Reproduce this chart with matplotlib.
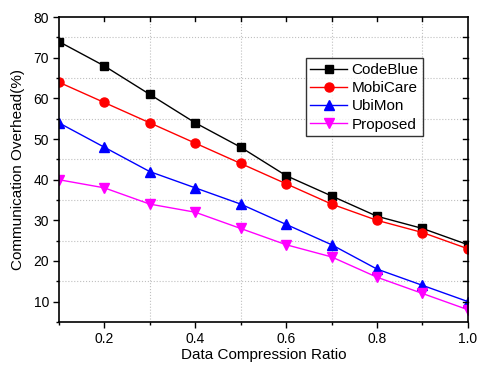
import numpy as np
import matplotlib
matplotlib.use('Agg')
import matplotlib.pyplot as plt
from matplotlib.ticker import MultipleLocator

plt.rcParams['font.family'] = ['Liberation Sans', 'DejaVu Sans']

ratio = [0.1, 0.2, 0.3, 0.4, 0.5, 0.6, 0.7, 0.8, 0.9, 1.0]
codeblue = [74, 68, 61, 54, 48, 41, 36, 31, 28, 24]
mobicare = [64, 59, 54, 49, 44, 39, 34, 30, 27, 23]
ubimon = [54, 48, 42, 38, 34, 29, 24, 18, 14, 10]
proposed = [40, 38, 34, 32, 28, 24, 21, 16, 12, 8]

fig = plt.figure(figsize=(4.78, 3.65), dpi=100)
ax = fig.add_axes([0.123, 0.118, 0.856, 0.835])

ax.plot(ratio, codeblue, color='black', marker='s', ms=6, lw=1, label='CodeBlue')
ax.plot(ratio, mobicare, color='red', marker='o', ms=6.5, lw=1, label='MobiCare')
ax.plot(ratio, ubimon, color='blue', marker='^', ms=7, lw=1, label='UbiMon')
ax.plot(ratio, proposed, color='magenta', marker='v', ms=7, lw=1, label='Proposed')

ax.set_xlim(0.1, 1.0)
ax.set_ylim(5, 80)
ax.xaxis.set_major_locator(MultipleLocator(0.2))
ax.xaxis.set_minor_locator(MultipleLocator(0.1))
ax.yaxis.set_major_locator(MultipleLocator(10))
ax.yaxis.set_minor_locator(MultipleLocator(5))
ax.set_xticks([0.2, 0.4, 0.6, 0.8, 1.0])
ax.set_xticklabels(['0.2', '0.4', '0.6', '0.8', '1.0'])

ax.tick_params(which='both', direction='out', top=False, right=False, labelsize=10)
ax.tick_params(which='major', length=4, width=1, pad=3)
ax.tick_params(which='minor', length=2.5, width=1)

# inward ticks on top and right
for v in np.arange(0.2, 1.0, 0.1):
    ax.plot([v, v], [80, 79], color='black', lw=1, clip_on=False)
for v in np.arange(10, 80, 5):
    ax.plot([1.0, 0.99], [v, v], color='black', lw=1, clip_on=False)

for v in [0.3, 0.5, 0.7, 0.9]:
    ax.axvline(v, color='#c0c0c0', ls=':', lw=0.8, zorder=0)
for v in [15, 25, 35, 45, 55, 65, 75]:
    ax.axhline(v, color='#c0c0c0', ls=':', lw=0.8, zorder=0)

for s in ax.spines.values():
    s.set_linewidth(1.2)

ax.set_xlabel('Data Compression Ratio', fontsize=11, labelpad=2)
ax.set_ylabel('Communication Overhead(%)', fontsize=11, labelpad=6)

leg = ax.legend(loc='upper left', bbox_to_anchor=(0.585, 0.89), fontsize=11,
                frameon=True, fancybox=False, edgecolor='black', handlelength=2.4,
                borderpad=0.3, labelspacing=0.28, handletextpad=0.3)
leg.get_frame().set_linewidth(1)

plt.savefig('out.png')
